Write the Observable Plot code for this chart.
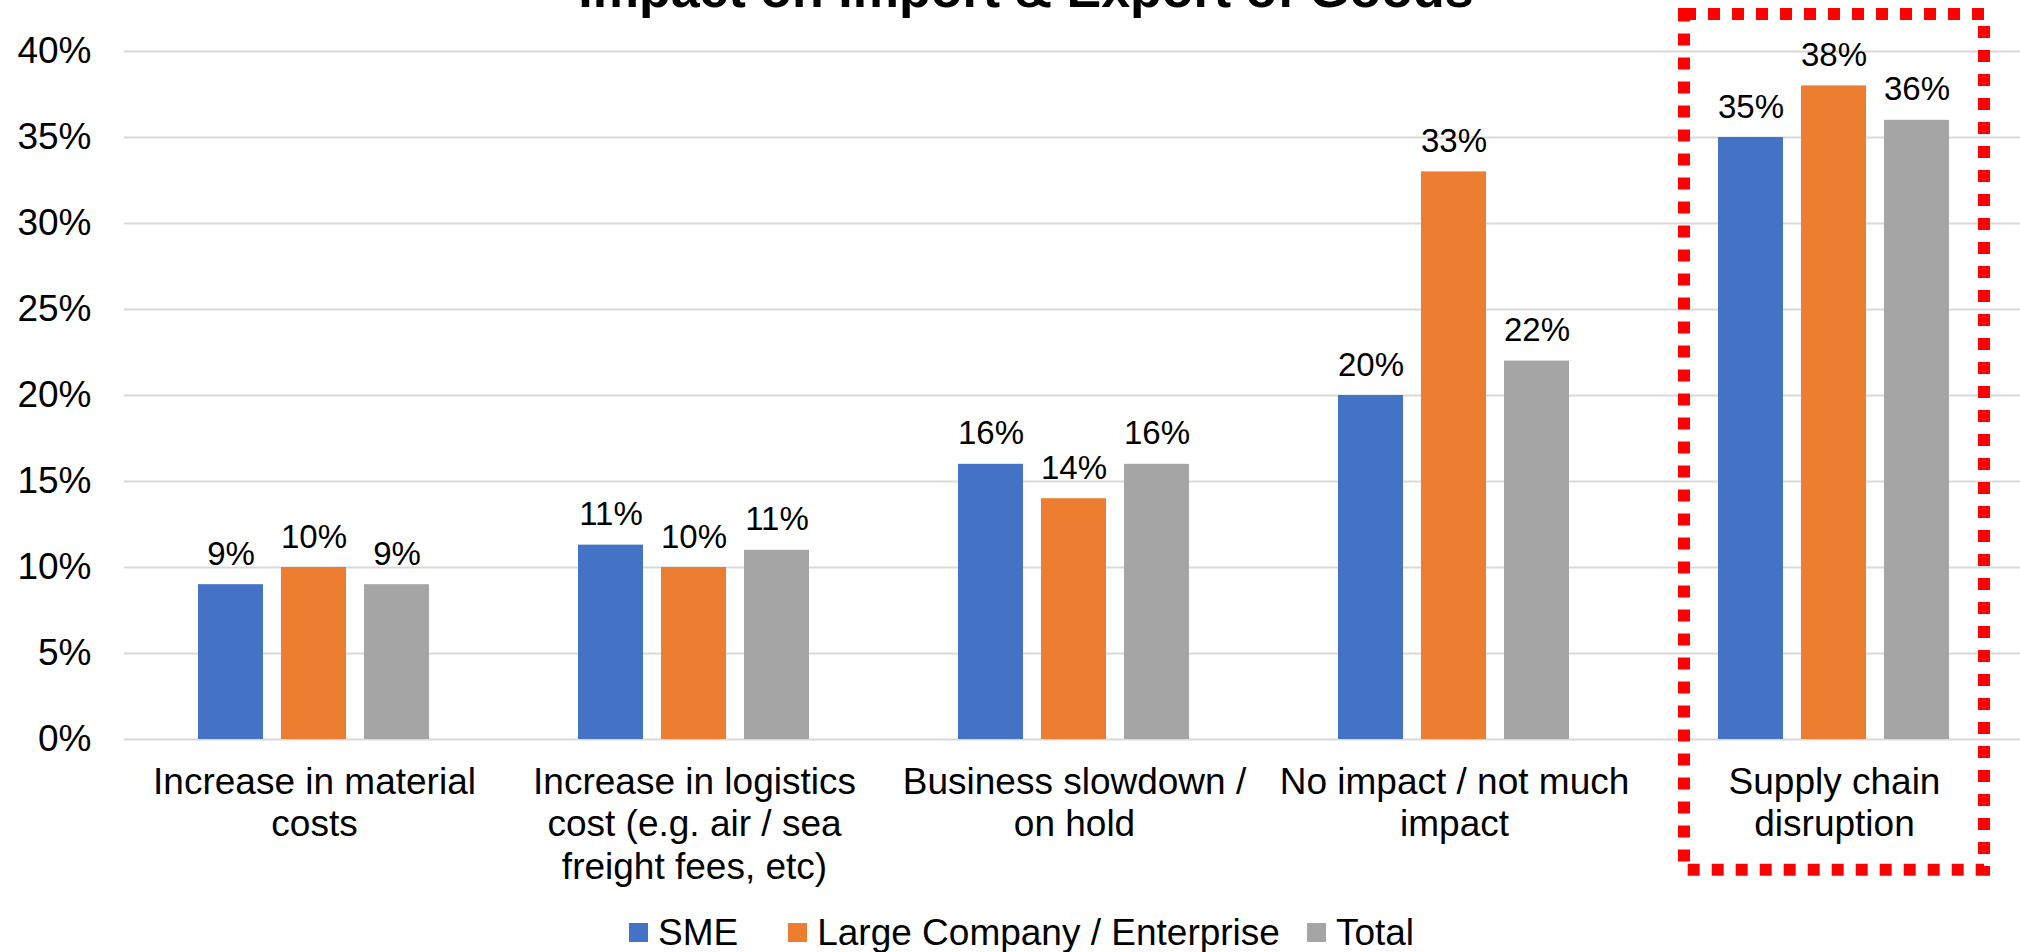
<!DOCTYPE html>
<html>
<head>
<meta charset="utf-8">
<script src="https://cdn.jsdelivr.net/npm/d3@7"></script>
<script src="https://cdn.jsdelivr.net/npm/@observablehq/plot@0.6"></script>
<style>
  html, body { margin: 0; padding: 0; background: #fff; overflow: hidden; }
  #wrap { position: relative; width: 2020px; height: 952px; font-family: "Liberation Sans", Arial, sans-serif; }
  #title { position: absolute; top: -37px; left: 1026px; transform: translateX(-50%); white-space: nowrap;
           font-size: 52px; line-height: 52px; font-weight: bold; color: #000; }
  #chart { position: absolute; top: 0; left: 0; }
  #legend { position: absolute; top: 914px; left: 629px; display: flex; align-items: center;
            font-size: 37px; line-height: 37px; color: #000; white-space: nowrap; }
  .item { display: flex; align-items: center; }
  .sw { width: 19px; height: 19px; margin-right: 10px; display: inline-block; }
</style>
</head>
<body>
<div id="wrap">
  <div id="chart"></div>
  <div id="title"></div>
  <div id="legend"></div>
</div>
<script>
const titleText = "Impact on Import & Export of Goods";
const categories = [
  "Increase in material costs",
  "Increase in logistics cost (e.g. air / sea freight fees, etc)",
  "Business slowdown / on hold",
  "No impact / not much impact",
  "Supply chain disruption"
];
const categoryLabels = [
  "Increase in material\ncosts",
  "Increase in logistics\ncost (e.g. air / sea\nfreight fees, etc)",
  "Business slowdown /\non hold",
  "No impact / not much\nimpact",
  "Supply chain\ndisruption"
];
const seriesNames = ["SME", "Large Company / Enterprise", "Total"];
const seriesColors = ["#4472C4", "#ED7D31", "#A5A5A5"];
const smeValues = [9, 11.3, 16, 20, 35];
const largeValues = [10, 10, 14, 33, 38];
const totalValues = [9, 11, 16, 22, 36];
const yTicks = [0, 5, 10, 15, 20, 25, 30, 35, 40];
const highlightCategory = "Supply chain disruption";
const highlightRange = [-7.6, 42.15];
const legendGaps = [50, 27, 0];

const seriesValues = [smeValues, largeValues, totalValues];
const rows = [];
categories.forEach((c, i) => {
  seriesNames.forEach((s, j) => rows.push({category: c, series: s, value: seriesValues[j][i]}));
});
const labelOf = new Map(categories.map((c, i) => [c, categoryLabels[i]]));
const highlight = [{category: highlightCategory, low: highlightRange[0], high: highlightRange[1]}];

document.getElementById("title").textContent = titleText;

const chart = Plot.plot({
  width: 2020,
  height: 900,
  marginLeft: 122,
  marginRight: -6,
  marginTop: 51,
  marginBottom: 161,
  style: {fontFamily: "'Liberation Sans', Arial, sans-serif", background: "transparent", overflow: "visible", color: "#000"},
  fx: {domain: categories, padding: 0, label: null},
  x: {domain: seriesNames, paddingInner: 0.2143, paddingOuter: 0.874, axis: null},
  y: {domain: [0, 40], label: null},
  color: {domain: seriesNames, range: seriesColors},
  marks: [
    Plot.ruleY(yTicks, {stroke: "#D9D9D9", strokeWidth: 2}),
    Plot.barY(rows, {fx: "category", x: "series", y: "value", fill: "series"}),
    Plot.text(rows, {fx: "category", x: "series", y: "value", text: d => Math.round(d.value) + "%",
      lineAnchor: "bottom", dy: -20, fontSize: 33, fill: "#000"}),
    Plot.rect(highlight, {fx: "category", y1: "low", y2: "high", insetLeft: 40, insetRight: 40,
      fill: "none", stroke: "#FF0000", strokeWidth: 12, strokeDasharray: "12,12"}),
    Plot.axisY({ticks: yTicks, tickFormat: d => d + "%", tickSize: 0, tickPadding: 33, fontSize: 37, label: null}),
    Plot.axisFx({anchor: "bottom", tickSize: 0, tickPadding: 24, fontSize: 37, lineHeight: 1.15, label: null,
      tickFormat: d => labelOf.get(d)})
  ]
});
document.getElementById("chart").appendChild(chart);

const legend = document.getElementById("legend");
seriesNames.forEach((s, i) => {
  const item = document.createElement("div");
  item.className = "item";
  item.style.marginRight = legendGaps[i] + "px";
  const sw = document.createElement("span");
  sw.className = "sw";
  sw.style.background = seriesColors[i];
  const t = document.createElement("span");
  t.textContent = s;
  item.appendChild(sw);
  item.appendChild(t);
  legend.appendChild(item);
});
</script>
</body>
</html>
